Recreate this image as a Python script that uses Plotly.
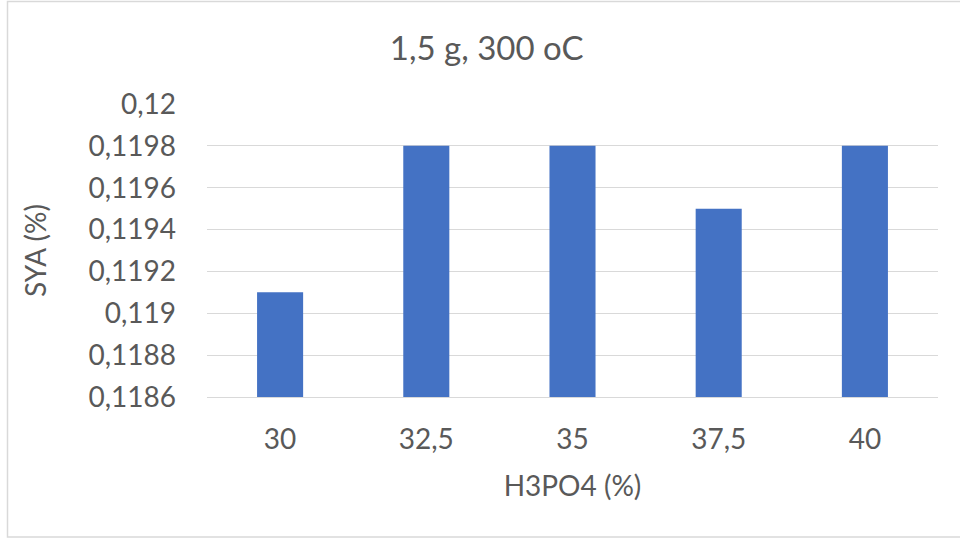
import plotly.graph_objects as go

categories = ["30", "32,5", "35", "37,5", "40"]
sya_values = [0.1191, 0.1198, 0.1198, 0.1195, 0.1198]
y_tick_vals = [0.1186, 0.1188, 0.1190, 0.1192, 0.1194, 0.1196, 0.1198, 0.1200]
y_tick_text = ["0,1186", "0,1188", "0,119", "0,1192", "0,1194", "0,1196", "0,1198", "0,12"]

W, H = 960, 540
left, right, top, bottom = 207, 938, 104, 397

fig = go.Figure(go.Bar(
    x=categories, y=sya_values,
    marker=dict(color="#4472C4", line=dict(width=0)),
    width=0.315,
))

font_fam = "Lato"
grey = "#595959"
fig.update_layout(
    width=W, height=H,
    margin=dict(l=left, r=W - right, t=top, b=H - bottom),
    paper_bgcolor="white", plot_bgcolor="white",
    font=dict(family=font_fam, color=grey, size=28),
    separators=",.",
    showlegend=False,
    title=dict(text="1,5 g, 300 oC", x=0.507, xanchor="center", xref="container",
               y=1 - 48 / H, yanchor="middle", yref="container",
               font=dict(size=33, color=grey, family=font_fam)),
    xaxis=dict(type="category", showgrid=False, showline=True, linecolor="#D9D9D9",
               linewidth=1, ticks="", ticklabelstandoff=17,
               tickfont=dict(size=28, color=grey, family=font_fam),
               title=dict(text="H3PO4 (%)", font=dict(size=28, color=grey, family=font_fam), standoff=22)),
    yaxis=dict(range=[0.1186, 0.1200], tickvals=y_tick_vals, ticktext=y_tick_text,
               showgrid=True, gridcolor="#D9D9D9", gridwidth=1, zeroline=False,
               showline=False, ticks="", ticklabelstandoff=30,
               tickfont=dict(size=28, color=grey, family=font_fam),
               title=dict(text="SYA (%)", font=dict(size=28, color=grey, family=font_fam), standoff=33)),
    shapes=[dict(type="rect", xref="paper", yref="paper",
                 x0=(7.5 - left) / (right - left), x1=(965 - left) / (right - left),
                 y0=(bottom - 537) / (bottom - top), y1=(bottom - 1.5) / (bottom - top),
                 line=dict(color="#D9D9D9", width=1.5), fillcolor="rgba(0,0,0,0)", layer="below")],
)

fig.write_html("out.html")
